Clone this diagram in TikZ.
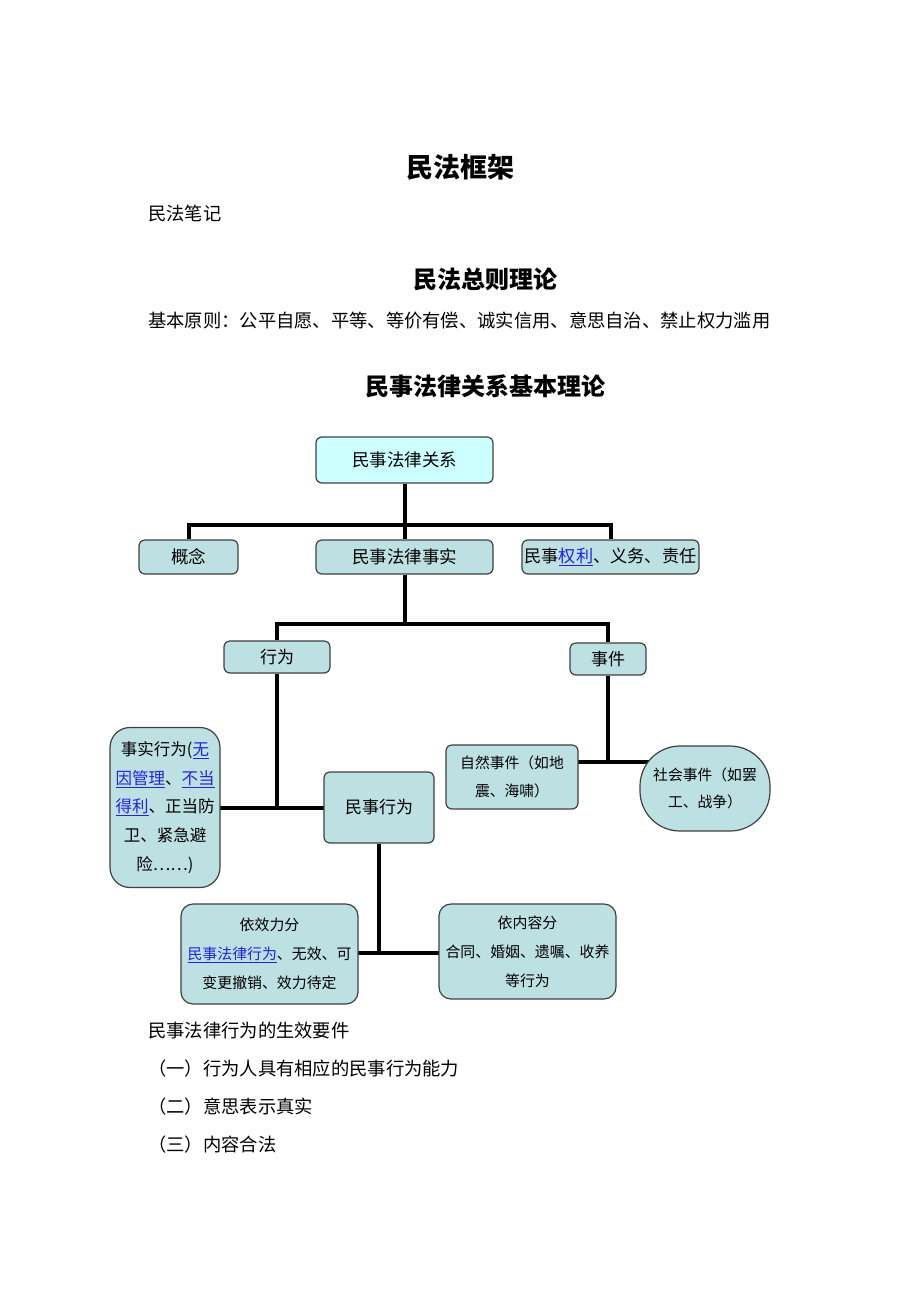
\documentclass[tikz,border=0pt]{standalone}
\usepackage{fontspec}
\setmainfont{Noto Sans CJK SC}
\definecolor{relcyan}{HTML}{CCFFFF}
\definecolor{boxteal}{HTML}{BDE0E2}
\definecolor{linkblue}{HTML}{2323DD}
\usetikzlibrary{backgrounds}
\newcommand{\fs}[2]{\fontsize{#1}{#2}\selectfont}
\newcommand{\lnk}[1]{\textcolor{linkblue}{\underline{#1}}}

\begin{document}
\begin{tikzpicture}[x=1pt, y=-1pt,
    box/.style={draw=black!75, fill=boxteal, rounded corners=6pt,
                line width=1.2pt, inner sep=0pt, align=center,
                font=\fs{17.5}{22}},
    conn/.style={line width=4pt, black},
    doctitle/.style={font=\fs{27}{27}\bfseries},
    head/.style={font=\fs{24}{24}\bfseries},
    body/.style={anchor=west, inner sep=0pt, font=\fs{18.3}{18.3}}
  ]
  \useasboundingbox (0,0) rectangle (920,1302);

  % page text above the chart
  \node[doctitle] (title) at (460,167) {民法框架};
  \node[body] (notes) at (148,214) {民法笔记};
  \node[head] (gen) at (485,279) {民法总则理论};
  \node[body] (principles) at (148,321) {基本原则：公平自愿、平等、等价有偿、诚实信用、意思自治、禁止权力滥用};
  \node[head] (basic) at (485,386) {民事法律关系基本理论};

  % chart
  \node[box, fill=relcyan, minimum width=177pt, minimum height=46pt] (rel) at (404.5,460) {民事法律关系};
  \node[box, minimum width=99pt, minimum height=34pt] (concept) at (188.5,557) {概念};
  \node[box, minimum width=177pt, minimum height=34pt] (fact) at (404.5,557) {民事法律事实};
  \node[box, minimum width=177pt, minimum height=34pt, font=\fs{17.2}{22}] (rights) at (610.5,557) {民事\lnk{权利}、义务、责任};

  \node[box, minimum width=106pt, minimum height=32pt, font=\fs{17}{22}] (act) at (277,657) {行为};
  \node[box, minimum width=76pt, minimum height=32pt, font=\fs{17}{22}] (event) at (608,659) {事件};

  \node[box, rounded corners=20pt, minimum width=110pt, minimum height=160pt,
        font=\fs{16.5}{28.7}] (factact) at (165,807.5)
        {事实行为(\lnk{无}\\\lnk{因管理}、\lnk{不当}\\\lnk{得利}、正当防\\卫、紧急避\\险……)};
  \node[box, minimum width=110pt, minimum height=71pt, font=\fs{17}{22}] (civact) at (379,807.5) {民事行为};

  \node[box, minimum width=132pt, minimum height=64pt, font=\fs{14.8}{28}] (natural) at (512,777) {自然事件（如地\\震、海啸）};
  \node[box, rounded corners=40pt, minimum width=130pt, minimum height=85pt,
        font=\fs{14.8}{27}] (social) at (705,788.5) {社会事件（如罢\\工、战争）};

  \node[box, rounded corners=12pt, minimum width=177pt, minimum height=100pt,
        font=\fs{14.9}{29}] (effect) at (269.5,954)
        {依效力分\\\lnk{民事法律行为}、无效、可\\变更撤销、效力待定};
  \node[box, rounded corners=12pt, minimum width=177pt, minimum height=95pt,
        font=\fs{14.9}{29}] (content) at (527.5,951.5)
        {依内容分\\合同、婚姻、遗嘱、收养\\等行为};

  % connectors behind the boxes
  \begin{scope}[on background layer]
    \fill[white] (0,0) rectangle (920,1302);
    \coordinate (topbar) at (404.5,525);
    \coordinate (midbar) at (404.5,624);
    \coordinate (evjoin) at (608,762);
    \coordinate (cvjoin) at (379,953);
    \draw[conn] (rel.south) -- (fact.north);
    \draw[conn] (concept.north) |- (topbar) -| (rights.north);
    \draw[conn] (fact.south) -- (midbar);
    \draw[conn] (act.north) |- (midbar) -| (event.north);
    \draw[conn] (act.south) |- (civact.center);
    \draw[conn] (factact.center) -- (civact.center);
    \draw[conn] (event.south) -- (evjoin);
    \draw[conn] (natural.center |- evjoin) -- (social.center |- evjoin);
    \draw[conn] (civact.south) -- (cvjoin);
    \draw[conn] (effect.center |- cvjoin) -- (content.center |- cvjoin);
  \end{scope}

  % page text below the chart
  \node[body] (req) at (148,1031) {民事法律行为的生效要件};
  \node[body] (req1) at (148,1069) {（一）行为人具有相应的民事行为能力};
  \node[body] (req2) at (148,1107) {（二）意思表示真实};
  \node[body] (req3) at (148,1145) {（三）内容合法};
\end{tikzpicture}
\end{document}
